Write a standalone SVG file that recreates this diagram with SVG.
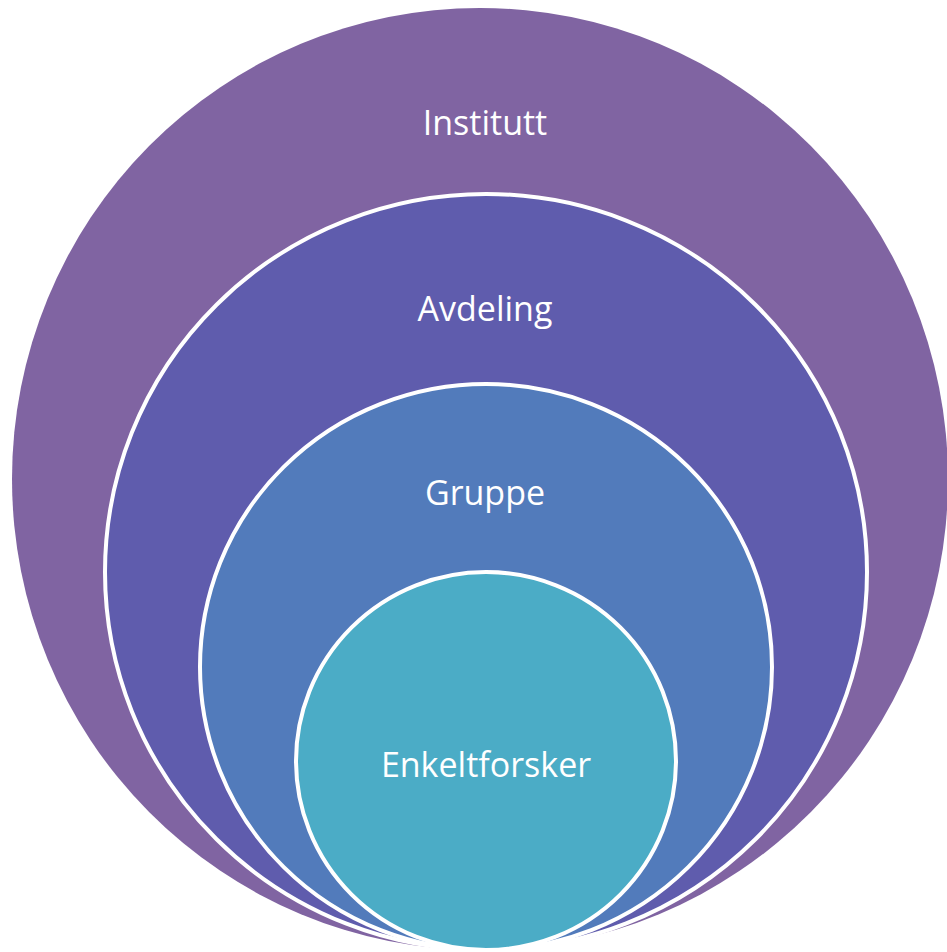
<svg xmlns="http://www.w3.org/2000/svg" width="947" height="952" viewBox="0 0 947 952">
<style>
.lbl{font-family:"Open Sans","Noto Sans",sans-serif;font-size:34px;fill:#fff;text-anchor:middle}
.ring{stroke:#fff;stroke-width:4}
</style>
<rect width="947" height="952" fill="#fff"/>
<g id="institutt">
<ellipse cx="480" cy="479" rx="468" ry="471" fill="#8064A2"/>
<text class="lbl" x="485" y="135">Institutt</text>
</g>
<g id="avdeling">
<ellipse class="ring" cx="486" cy="572" rx="381" ry="378" fill="#5F5CAD"/>
<text class="lbl" x="485" y="321">Avdeling</text>
</g>
<g id="gruppe">
<ellipse class="ring" cx="486" cy="667" rx="286" ry="283" fill="#527BBB"/>
<text class="lbl" x="485" y="505">Gruppe</text>
</g>
<g id="enkeltforsker">
<ellipse class="ring" cx="486" cy="761" rx="190" ry="189" fill="#4BACC6"/>
<text class="lbl" x="486" y="777">Enkeltforsker</text>
</g>
<g id="connectors"/>
</svg>
